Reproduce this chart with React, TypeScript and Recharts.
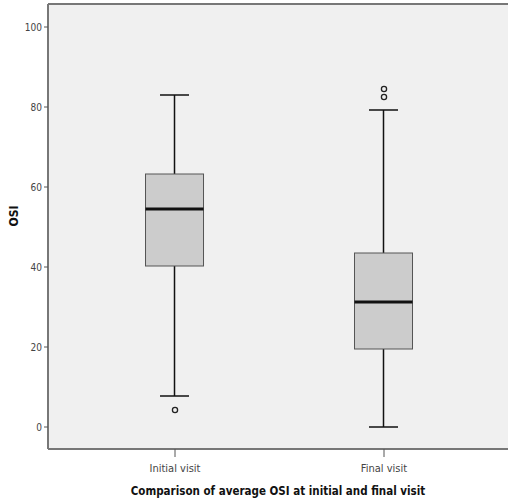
import { ComposedChart, Bar, Scatter, XAxis, YAxis, CartesianGrid, ReferenceLine } from 'recharts';

const visits = ['Initial visit', 'Final visit'];
const positions = [1, 2];
const whiskerLow = [7.75, 0];
const q1 = [40.25, 19.5];
const median = [54.5, 31.25];
const q3 = [63.25, 43.5];
const whiskerHigh = [83, 79.25];
const outlierX = [1, 2, 2];
const outlierY = [4.25, 82.5, 84.5];
const yTicks = [0, 20, 40, 60, 80, 100];

const boxes = visits.map((_, i) => ({
  x: positions[i],
  range: [whiskerLow[i], whiskerHigh[i]],
  q1: q1[i],
  median: median[i],
  q3: q3[i],
}));

const outliers = outlierX.map((x, i) => ({ x, y: outlierY[i] }));

const FONT = '"Liberation Sans Narrow", "Arial Narrow", "DejaVu Sans Condensed", "Liberation Sans", sans-serif';

function BoxShape(props: any) {
  const { x, y, width, height, payload } = props;
  const [lo, hi] = payload.range;
  const top = Math.min(y, y + height);
  const h = Math.abs(height);
  const pix = (v: number) => top + (h * (hi - v)) / (hi - lo);
  const cx = x + width / 2;
  const capHalf = 14.5;
  return (
    <g>
      <line x1={cx} x2={cx} y1={pix(hi)} y2={pix(lo)} stroke="#111" strokeWidth={1.5} />
      <line x1={cx - capHalf} x2={cx + capHalf} y1={pix(hi)} y2={pix(hi)} stroke="#111" strokeWidth={1.5} />
      <line x1={cx - capHalf} x2={cx + capHalf} y1={pix(lo)} y2={pix(lo)} stroke="#111" strokeWidth={1.5} />
      <rect
        x={x}
        y={pix(payload.q3)}
        width={width}
        height={pix(payload.q1) - pix(payload.q3)}
        fill="#cccccc"
        stroke="#555"
        strokeWidth={1}
      />
      <line x1={x} x2={x + width} y1={pix(payload.median)} y2={pix(payload.median)} stroke="#111" strokeWidth={3} />
    </g>
  );
}

function OutlierDot(props: any) {
  const { cx, cy } = props;
  return <circle cx={cx} cy={cy} r={2.6} fill="none" stroke="#222" strokeWidth={1.3} />;
}

export default function App() {
  return (
    <div style={{ position: 'absolute', left: 0, top: 0, background: '#fff' }}>
      <ComposedChart
        width={508}
        height={502}
        data={boxes}
        margin={{ top: 4, right: 0, bottom: 0, left: 0 }}
      >
        <CartesianGrid fill="#f0f0f0" horizontal={false} vertical={false} />
        <XAxis
          dataKey="x"
          type="number"
          domain={[0.3923, 2.5933]}
          ticks={positions}
          tickFormatter={(v: number) => visits[positions.indexOf(v)] ?? ''}
          height={53}
          tickSize={8}
          axisLine={{ stroke: '#777', strokeWidth: 2 }}
          tickLine={{ stroke: '#555' }}
          tick={{ fill: '#444', fontSize: 11, fontFamily: FONT, dy: 5 }}
          allowDataOverflow
          label={{
            value: 'Comparison of average OSI at initial and final visit',
            position: 'insideBottom',
            offset: 7,
            fill: '#111',
            fontSize: 11.5,
            fontWeight: 'bold',
            fontFamily: FONT,
          }}
        />
        <YAxis
          type="number"
          domain={[-5.5, 105.75]}
          ticks={yTicks}
          width={48}
          tickSize={4}
          axisLine={{ stroke: '#777', strokeWidth: 2 }}
          tickLine={{ stroke: '#555' }}
          tick={{ fill: '#444', fontSize: 10, fontFamily: FONT }}
          allowDataOverflow
          label={{
            value: 'OSI',
            angle: -90,
            position: 'insideLeft',
            offset: 14,
            fill: '#111',
            fontSize: 12,
            fontWeight: 'bold',
            fontFamily: FONT,
          }}
        />
        <ReferenceLine y={105.75} stroke="#777" strokeWidth={2} />
        <Bar dataKey="range" barSize={58} shape={<BoxShape />} isAnimationActive={false} />
        <Scatter data={outliers} dataKey="y" shape={<OutlierDot />} isAnimationActive={false} />
      </ComposedChart>
    </div>
  );
}
